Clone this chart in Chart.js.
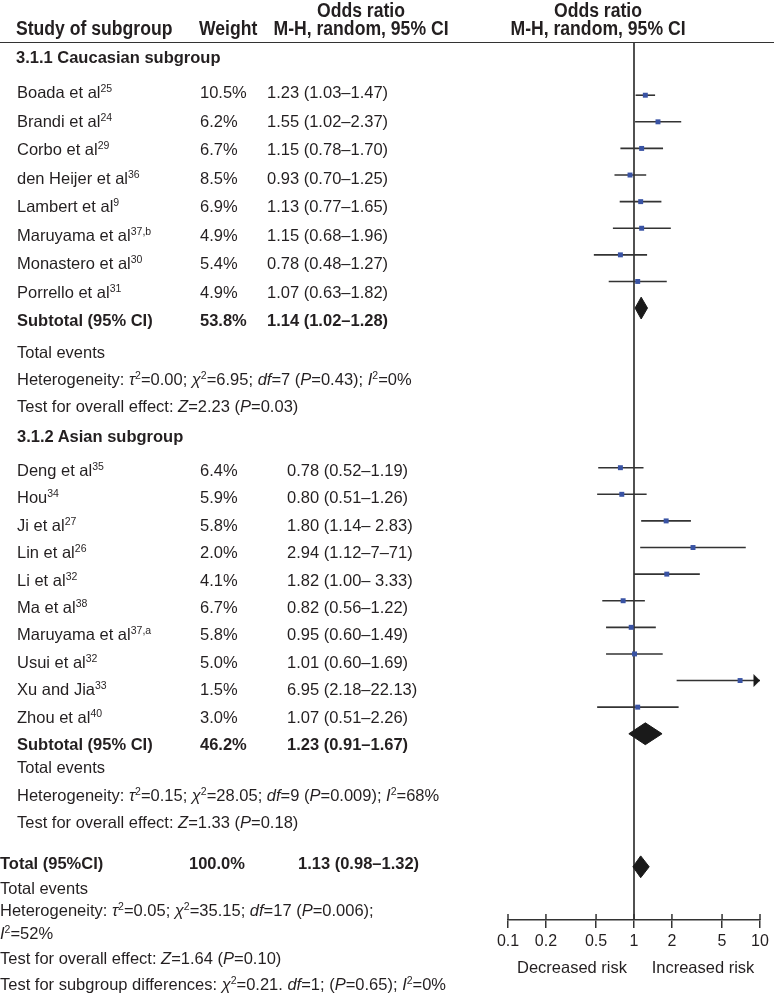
<!DOCTYPE html>
<html><head><meta charset="utf-8">
<script src="https://cdn.jsdelivr.net/npm/chart.js@4.4.1/dist/chart.umd.min.js"></script>
<style>
html,body{margin:0;padding:0;background:#fff;}
#wrap{position:relative;width:774px;height:993px;overflow:hidden;font-family:"Liberation Sans",Arial,Helvetica,sans-serif;color:#231f20;}
#c{position:absolute;left:0;top:0;}
.t{position:absolute;white-space:nowrap;font-size:16.5px;line-height:20px;}
.b{font-weight:bold;}
.h{font-family:"Liberation Sans Narrow","Arial Narrow",sans-serif;font-weight:bold;font-size:20px;line-height:20px;}
.s{position:relative;top:-6px;font-size:10.5px;line-height:0;}
#hline{position:absolute;left:0;top:42px;width:774px;height:0;border-top:1.5px solid #333;}
</style></head>
<body><div id="wrap"><canvas id="c" width="774" height="993"></canvas><div id="hline"></div></div>
<script>
// ---------- data ----------
const cauNames   = ['Boada et al','Brandi et al','Corbo et al','den Heijer et al','Lambert et al','Maruyama et al','Monastero et al','Porrello et al'];
const cauRefs    = ['25','24','29','36','9','37,b','30','31'];
const cauWeights = [10.5, 6.2, 6.7, 8.5, 6.9, 4.9, 5.4, 4.9];
const cauOR      = [1.23, 1.55, 1.15, 0.93, 1.13, 1.15, 0.78, 1.07];
const cauLo      = [1.03, 1.02, 0.78, 0.70, 0.77, 0.68, 0.48, 0.63];
const cauHi      = [1.47, 2.37, 1.70, 1.25, 1.65, 1.96, 1.27, 1.82];
const cauLabels  = ['1.23 (1.03–1.47)','1.55 (1.02–2.37)','1.15 (0.78–1.70)','0.93 (0.70–1.25)','1.13 (0.77–1.65)','1.15 (0.68–1.96)','0.78 (0.48–1.27)','1.07 (0.63–1.82)'];
const cauSubtotal       = [1.14, 1.02, 1.28];   // OR, lower, upper
const cauSubtotalWeight = 53.8;
const cauSubtotalLabel  = '1.14 (1.02–1.28)';

const asiNames   = ['Deng et al','Hou','Ji et al','Lin et al','Li et al','Ma et al','Maruyama et al','Usui et al','Xu and Jia','Zhou et al'];
const asiRefs    = ['35','34','27','26','32','38','37,a','32','33','40'];
const asiWeights = [6.4, 5.9, 5.8, 2.0, 4.1, 6.7, 5.8, 5.0, 1.5, 3.0];
const asiOR      = [0.78, 0.80, 1.80, 2.94, 1.82, 0.82, 0.95, 1.01, 6.95, 1.07];
const asiLo      = [0.52, 0.51, 1.14, 1.12, 1.00, 0.56, 0.60, 0.60, 2.18, 0.51];
const asiHi      = [1.19, 1.26, 2.83, 7.71, 3.33, 1.22, 1.49, 1.69, 22.13, 2.26];
const asiLabels  = ['0.78 (0.52–1.19)','0.80 (0.51–1.26)','1.80 (1.14– 2.83)','2.94 (1.12–7–71)','1.82 (1.00– 3.33)','0.82 (0.56–1.22)','0.95 (0.60–1.49)','1.01 (0.60–1.69)','6.95 (2.18–22.13)','1.07 (0.51–2.26)'];
const asiSubtotal       = [1.23, 0.91, 1.67];
const asiSubtotalWeight = 46.2;
const asiSubtotalLabel  = '1.23 (0.91–1.67)';

const totalOverall      = [1.13, 0.98, 1.32];
const totalWeight       = 100.0;
const totalLabel        = '1.13 (0.98–1.32)';

const xTicks = [0.1, 0.2, 0.5, 1, 2, 5, 10];
const xMin = 0.1, xMax = 10;

// ---------- layout constants (row slots on the plot) ----------
const CAU_START = 0, ASI_START = 14, TOTAL_ROW = 29;
const Y_MIN = -2, Y_MAX = 31, DIAMOND_HALF = 0.41;

// ---------- text ----------
const wrap = document.getElementById('wrap');
function addText(html, x, cy, cls, center) {
  const d = document.createElement('div');
  d.className = 't ' + (cls || '');
  d.innerHTML = html;
  d.style.left = x + 'px';
  d.style.top = (cy - 10) + 'px';
  if (center) d.style.transform = 'translateX(-50%)';
  d.dataset.center = center ? '1' : '';
  wrap.appendChild(d);
  return d;
}
const sup = s => '<span class="s">' + s + '</span>';
const pct = w => w.toFixed(1) + '%';

// header (narrow bold)
const headers = [
  addText('Study of subgroup', 16, 28, 'h'),
  addText('Weight', 199, 28, 'h'),
  addText('Odds ratio', 361, 10, 'h', true),
  addText('M-H, random, 95% CI', 361, 28, 'h', true),
  addText('Odds ratio', 598, 10, 'h', true),
  addText('M-H, random, 95% CI', 598, 28, 'h', true)
];
(function () {
  const m = document.createElement('canvas').getContext('2d');
  m.font = 'bold 20px "Liberation Sans Narrow", monospace';
  const a = m.measureText('Study of subgroup').width;
  m.font = 'bold 20px monospace';
  const b = m.measureText('Study of subgroup').width;
  if (Math.abs(a - b) < 0.5) {
    headers.forEach(h => {
      h.style.fontFamily = '"Liberation Sans", Arial, sans-serif';
      if (h.dataset.center) {
        h.style.transformOrigin = '50% 50%';
        h.style.transform = 'translateX(-50%) scaleX(0.88)';
      } else {
        h.style.transformOrigin = '0 50%';
        h.style.transform = 'scaleX(0.88)';
      }
    });
  }
})();

// Caucasian section
addText('3.1.1 Caucasian subgroup', 16, 57, 'b');
const cauRowY = i => 92 + 28.5 * i;
cauNames.forEach((n, i) => {
  addText(n + sup(cauRefs[i]), 17, cauRowY(i));
  addText(pct(cauWeights[i]), 200, cauRowY(i));
  addText(cauLabels[i], 267, cauRowY(i));
});
addText('Subtotal (95% CI)', 17, 320, 'b');
addText(pct(cauSubtotalWeight), 200, 320, 'b');
addText(cauSubtotalLabel, 267, 320, 'b');
addText('Total events', 17, 352);
addText('Heterogeneity: <i>τ</i>' + sup('2') + '=0.00; <i>χ</i>' + sup('2') + '=6.95; <i>df</i>=7 (<i>P</i>=0.43); <i>I</i>' + sup('2') + '=0%', 17, 379);
addText('Test for overall effect: <i>Z</i>=2.23 (<i>P</i>=0.03)', 17, 406);

// Asian section
addText('3.1.2 Asian subgroup', 17, 436, 'b');
const asiRowY = i => 470 + 27.4 * i;
asiNames.forEach((n, i) => {
  addText(n + sup(asiRefs[i]), 17, asiRowY(i));
  addText(pct(asiWeights[i]), 200, asiRowY(i));
  addText(asiLabels[i], 287, asiRowY(i));
});
addText('Subtotal (95% CI)', 17, 744, 'b');
addText(pct(asiSubtotalWeight), 200, 744, 'b');
addText(asiSubtotalLabel, 287, 744, 'b');
addText('Total events', 17, 767);
addText('Heterogeneity: <i>τ</i>' + sup('2') + '=0.15; <i>χ</i>' + sup('2') + '=28.05; <i>df</i>=9 (<i>P</i>=0.009); <i>I</i>' + sup('2') + '=68%', 17, 795);
addText('Test for overall effect: <i>Z</i>=1.33 (<i>P</i>=0.18)', 17, 822);

// Overall
addText('Total (95%CI)', 0, 863, 'b');
addText(pct(totalWeight), 189, 863, 'b');
addText(totalLabel, 298, 863, 'b');
addText('Total events', 0, 888);
addText('Heterogeneity: <i>τ</i>' + sup('2') + '=0.05; <i>χ</i>' + sup('2') + '=35.15; <i>df</i>=17 (<i>P</i>=0.006);', 0, 910);
addText('<i>I</i>' + sup('2') + '=52%', 0, 933);
addText('Test for overall effect: <i>Z</i>=1.64 (<i>P</i>=0.10)', 0, 958);
addText('Test for subgroup differences: <i>χ</i>' + sup('2') + '=0.21. <i>df</i>=1; (<i>P</i>=0.65); <i>I</i>' + sup('2') + '=0%', 0, 984);

addText('Decreased risk', 572, 967, '', true);
addText('Increased risk', 703, 967, '', true);

// ---------- plot ----------
const LINE = '#333333', BLUE = '#3953a4', DARK = '#1a1a1a';
const studies = [];
cauOR.forEach((v, i) => studies.push({or: v, lo: cauLo[i], hi: cauHi[i], row: CAU_START + i}));
asiOR.forEach((v, i) => studies.push({or: v, lo: asiLo[i], hi: asiHi[i], row: ASI_START + i}));

const arrowImg = (function () {
  const c = document.createElement('canvas');
  c.width = 16; c.height = 13;
  const g = c.getContext('2d');
  g.fillStyle = DARK;
  g.beginPath(); g.moveTo(8, 6.5); g.lineTo(1.5, 0); g.lineTo(1.5, 13); g.closePath(); g.fill();
  return c;
})();

const datasets = [];
// markers (drawn on top)
datasets.push({
  type: 'line', showLine: false, data: studies.map(s => ({x: s.or, y: s.row})),
  pointStyle: 'rect', pointRadius: 3.5, pointBackgroundColor: BLUE, pointBorderWidth: 0
});
// arrows for truncated intervals
datasets.push({
  type: 'line', showLine: false, clip: false,
  data: studies.filter(s => s.hi > xMax).map(s => ({x: xMax, y: s.row})),
  pointStyle: arrowImg, pointRadius: 6
});
// diamonds
function diamond(vals, row) {
  const [est, lo, hi] = vals;
  return {
    type: 'line', fill: 'shape', tension: 0, pointRadius: 0,
    borderColor: DARK, backgroundColor: DARK, borderWidth: 1,
    data: [{x: lo, y: row}, {x: est, y: row - DIAMOND_HALF}, {x: hi, y: row}, {x: est, y: row + DIAMOND_HALF}, {x: lo, y: row}]
  };
}
datasets.push(diamond(cauSubtotal, CAU_START + cauOR.length));
datasets.push(diamond(asiSubtotal, ASI_START + asiOR.length));
datasets.push(diamond(totalOverall, TOTAL_ROW));
// CI lines
studies.forEach(s => datasets.push({
  type: 'line', pointRadius: 0, borderColor: LINE, borderWidth: 1.6,
  data: [{x: Math.max(s.lo, xMin), y: s.row}, {x: Math.min(s.hi, xMax), y: s.row}]
}));
// line of no effect
datasets.push({
  type: 'line', pointRadius: 0, borderColor: LINE, borderWidth: 1.7,
  data: [{x: 1, y: Y_MIN}, {x: 1, y: Y_MAX}]
});

const tickUp = {
  id: 'tickUp',
  afterDraw(chart) {
    const s = chart.scales.x, ctx = chart.ctx;
    ctx.save(); ctx.strokeStyle = LINE; ctx.lineWidth = 1.5;
    s.ticks.forEach(t => {
      const px = s.getPixelForValue(t.value);
      ctx.beginPath(); ctx.moveTo(px, s.top - 6); ctx.lineTo(px, s.top); ctx.stroke();
    });
    ctx.restore();
  }
};

new Chart(document.getElementById('c'), {
  type: 'line',
  data: {datasets},
  plugins: [tickUp],
  options: {
    responsive: false, animation: false, devicePixelRatio: 1,
    events: [],
    layout: {padding: {left: 508, right: 14, top: 42, bottom: 22}},
    plugins: {legend: {display: false}, tooltip: {enabled: false}},
    scales: {
      x: {
        type: 'logarithmic', min: xMin, max: xMax, position: 'bottom',
        afterBuildTicks: s => { s.ticks = xTicks.map(v => ({value: v})); },
        afterFit: s => { s.height = 51; },
        ticks: {
          callback: v => String(v), autoSkip: false, maxRotation: 0, padding: 4,
          color: '#231f20', font: {family: '"Liberation Sans", Arial, sans-serif', size: 16}
        },
        grid: {display: true, drawOnChartArea: false, drawTicks: true, tickLength: 8, color: LINE, lineWidth: 1.5},
        border: {display: true, color: LINE, width: 1.5}
      },
      y: {type: 'linear', min: Y_MIN, max: Y_MAX, reverse: true, display: false}
    }
  }
});
</script>
</body></html>
